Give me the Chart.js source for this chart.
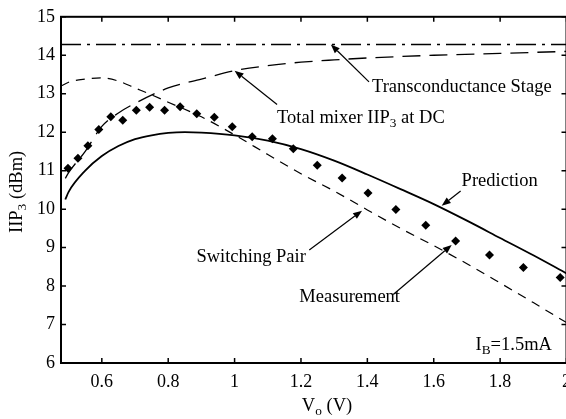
<!DOCTYPE html>
<html>
<head>
<meta charset="utf-8">
<script src="https://cdn.jsdelivr.net/npm/chart.js@4.4.1/dist/chart.umd.min.js"></script>
<style>
    html, body { margin: 0; padding: 0; background: #fff; overflow: hidden; }
    #wrap { width: 580px; height: 419px; }
</style>
</head>
<body>
<div id="wrap"><canvas id="iipChart" width="580" height="419"></canvas></div>
<script>
// Axis ticks
const xTicks = [0.6, 0.8, 1.0, 1.2, 1.4, 1.6, 1.8, 2.0];
const yTicks = [6, 7, 8, 9, 10, 11, 12, 13, 14, 15];

// Transconductance stage (flat)
const gmX = [0.477, 2.0];
const gmY = [14.28, 14.28];

// Total mixer IIP3 at DC
const totalX = [0.49, 0.5, 0.55, 0.6, 0.65, 0.7, 0.8, 0.9, 1.0, 1.1, 1.2, 1.3, 1.4, 1.6, 1.8, 2.0];
const totalY = [10.8, 10.95, 11.5, 12.15, 12.5, 12.75, 13.15, 13.38, 13.6, 13.73, 13.82, 13.88, 13.93, 14.0, 14.05, 14.1];

// Switching pair
const swX = [0.477, 0.5, 0.55, 0.6, 0.65, 0.7, 0.75, 0.8, 0.9, 1.0, 1.1, 1.2, 1.3, 1.4, 1.5, 1.6, 1.7, 1.8, 1.9, 2.0];
const swY = [13.2, 13.3, 13.38, 13.41, 13.33, 13.15, 12.97, 12.78, 12.4, 11.93, 11.42, 10.92, 10.47, 9.98, 9.5, 9.05, 8.58, 8.08, 7.57, 7.05];

// Prediction
const predX = [0.49, 0.5, 0.55, 0.6, 0.65, 0.7, 0.75, 0.8, 0.85, 0.9, 1.0, 1.1, 1.2, 1.3, 1.4, 1.5, 1.6, 1.7, 1.8, 1.9, 2.0];
const predY = [10.25, 10.45, 11.0, 11.38, 11.64, 11.82, 11.92, 11.98, 12.0, 11.99, 11.92, 11.78, 11.56, 11.26, 10.9, 10.52, 10.13, 9.7, 9.25, 8.8, 8.33];

// Measurement
const measX = [0.498, 0.528, 0.558, 0.591, 0.627, 0.663, 0.704, 0.744, 0.789, 0.836, 0.886, 0.939, 0.993, 1.053, 1.114, 1.177, 1.249, 1.324, 1.402, 1.486, 1.576, 1.666, 1.768, 1.87, 1.981];
const measY = [11.06, 11.32, 11.65, 12.07, 12.4, 12.31, 12.57, 12.65, 12.57, 12.66, 12.48, 12.39, 12.14, 11.88, 11.83, 11.57, 11.14, 10.81, 10.42, 9.99, 9.58, 9.17, 8.81, 8.48, 8.22];

const FONT = '"Liberation Serif", "Times New Roman", serif';
const FS = 18.5;

const toPoints = (xs, ys) => xs.map((x, i) => ({ x: x, y: ys[i] }));

// Callout labels, anchored in data units
const callouts = [
    { parts: [{ t: 'Transconductance Stage' }], at: [1.414, 13.16], from: [1.405, 13.31], to: [1.29, 14.28] },
    { parts: [{ t: 'Total mixer IIP' }, { t: '3', sub: true }, { t: ' at DC' }], at: [1.128, 12.37], from: [1.128, 12.72], to: [1.0, 13.6] },
    { parts: [{ t: 'Prediction' }], at: [1.684, 10.73], from: [1.681, 10.47], to: [1.624, 10.09] },
    { parts: [{ t: 'Switching Pair' }], at: [0.885, 8.76], from: [1.225, 8.94], to: [1.384, 9.96] },
    { parts: [{ t: 'Measurement' }], at: [1.195, 7.71], from: [1.478, 7.78], to: [1.654, 9.07] },
    { parts: [{ t: 'I' }, { t: 'B', sub: true }, { t: '=1.5mA' }], at: [1.726, 6.47] }
];

function richWidth(ctx, parts) {
    let w = 0;
    parts.forEach(p => {
        ctx.font = (p.sub ? FS * 0.72 : FS) + 'px ' + FONT;
        w += ctx.measureText(p.t).width;
    });
    return w;
}

function drawRich(ctx, parts, x, y) {
    let cx = x;
    parts.forEach(p => {
        ctx.font = (p.sub ? FS * 0.72 : FS) + 'px ' + FONT;
        ctx.fillText(p.t, cx, p.sub ? y + FS * 0.3 : y);
        cx += ctx.measureText(p.t).width;
    });
}

function drawArrow(ctx, x0, y0, x1, y1) {
    const ang = Math.atan2(y1 - y0, x1 - x0);
    const len = 9, half = 3.5;
    ctx.beginPath();
    ctx.moveTo(x0, y0);
    ctx.lineTo(x1 - Math.cos(ang) * len, y1 - Math.sin(ang) * len);
    ctx.stroke();
    ctx.beginPath();
    ctx.moveTo(x1, y1);
    ctx.lineTo(x1 - Math.cos(ang) * len - Math.sin(ang) * half, y1 - Math.sin(ang) * len + Math.cos(ang) * half);
    ctx.lineTo(x1 - Math.cos(ang) * len + Math.sin(ang) * half, y1 - Math.sin(ang) * len - Math.cos(ang) * half);
    ctx.closePath();
    ctx.fill();
}

// Box, inward ticks, axis titles and callouts
const decorations = {
    id: 'decorations',
    afterDraw(chart) {
        const { ctx, chartArea: a, scales: { x, y } } = chart;
        ctx.save();
        ctx.strokeStyle = '#000';
        ctx.fillStyle = '#000';
        ctx.lineWidth = 2;
        ctx.strokeRect(a.left, a.top, a.right - a.left, a.bottom - a.top);

        ctx.lineWidth = 1.5;
        ctx.beginPath();
        x.ticks.forEach(t => {
            const px = x.getPixelForValue(t.value);
            ctx.moveTo(px, a.bottom); ctx.lineTo(px, a.bottom - 5);
            ctx.moveTo(px, a.top); ctx.lineTo(px, a.top + 5);
        });
        y.ticks.forEach(t => {
            const py = y.getPixelForValue(t.value);
            ctx.moveTo(a.left, py); ctx.lineTo(a.left + 5, py);
            ctx.moveTo(a.right, py); ctx.lineTo(a.right - 5, py);
        });
        ctx.stroke();

        ctx.textBaseline = 'middle';
        ctx.textAlign = 'left';

        // x title
        const xt = [{ t: 'V' }, { t: 'o', sub: true }, { t: ' (V)' }];
        drawRich(ctx, xt, 327 - richWidth(ctx, xt) / 2, 406);

        // y title, rotated
        const yt = [{ t: 'IIP' }, { t: '3', sub: true }, { t: ' (dBm)' }];
        ctx.save();
        ctx.translate(17, (a.top + a.bottom) / 2 + 2);
        ctx.rotate(-Math.PI / 2);
        drawRich(ctx, yt, -richWidth(ctx, yt) / 2, 0);
        ctx.restore();

        ctx.lineWidth = 1.2;
        callouts.forEach(c => {
            drawRich(ctx, c.parts, x.getPixelForValue(c.at[0]), y.getPixelForValue(c.at[1]));
            if (c.from) {
                drawArrow(ctx,
                    x.getPixelForValue(c.from[0]), y.getPixelForValue(c.from[1]),
                    x.getPixelForValue(c.to[0]), y.getPixelForValue(c.to[1]));
            }
        });
        ctx.restore();
    }
};

const lineStyle = (dash, width) => ({
    showLine: true,
    borderColor: '#000',
    borderWidth: width,
    borderDash: dash,
    pointRadius: 0,
    tension: 0.4,
    cubicInterpolationMode: 'monotone',
    fill: false
});

new Chart(document.getElementById('iipChart'), {
    type: 'scatter',
    data: {
        datasets: [
            Object.assign({ label: 'Transconductance Stage', data: toPoints(gmX, gmY) }, lineStyle([20, 6, 3, 6], 1.3)),
            Object.assign({ label: 'Total mixer IIP3 at DC', data: toPoints(totalX, totalY) }, lineStyle([18, 9], 1.3)),
            Object.assign({ label: 'Switching Pair', data: toPoints(swX, swY) }, lineStyle([9, 7], 1.2)),
            Object.assign({ label: 'Prediction', data: toPoints(predX, predY) }, lineStyle([], 1.8)),
            {
                label: 'Measurement',
                data: toPoints(measX, measY),
                showLine: false,
                pointStyle: 'rectRot',
                pointRadius: 4.5,
                pointBackgroundColor: '#000',
                pointBorderColor: '#000',
                pointBorderWidth: 0
            }
        ]
    },
    options: {
        responsive: false,
        animation: false,
        layout: { padding: { top: 11, right: 13.5, left: 0, bottom: 0 } },
        plugins: {
            legend: { display: false },
            tooltip: { enabled: false }
        },
        scales: {
            x: {
                type: 'linear',
                min: 0.477,
                max: 2.0,
                grid: { display: false, drawTicks: false },
                border: { display: false },
                afterBuildTicks: scale => { scale.ticks = xTicks.map(v => ({ value: v })); },
                afterFit: scale => { scale.height = 56; },
                ticks: {
                    padding: 8,
                    color: '#000',
                    font: { family: FONT, size: 18 },
                    maxRotation: 0,
                    callback: v => (v === 1 || v === 2) ? String(v) : v.toFixed(1)
                }
            },
            y: {
                type: 'linear',
                min: 6,
                max: 15,
                grid: { display: false, drawTicks: false },
                border: { display: false },
                afterBuildTicks: scale => { scale.ticks = yTicks.map(v => ({ value: v })); },
                afterFit: scale => { scale.width = 61; },
                ticks: {
                    padding: 6,
                    color: '#000',
                    font: { family: FONT, size: 18 }
                }
            }
        }
    },
    plugins: [decorations]
});
</script>
</body>
</html>
